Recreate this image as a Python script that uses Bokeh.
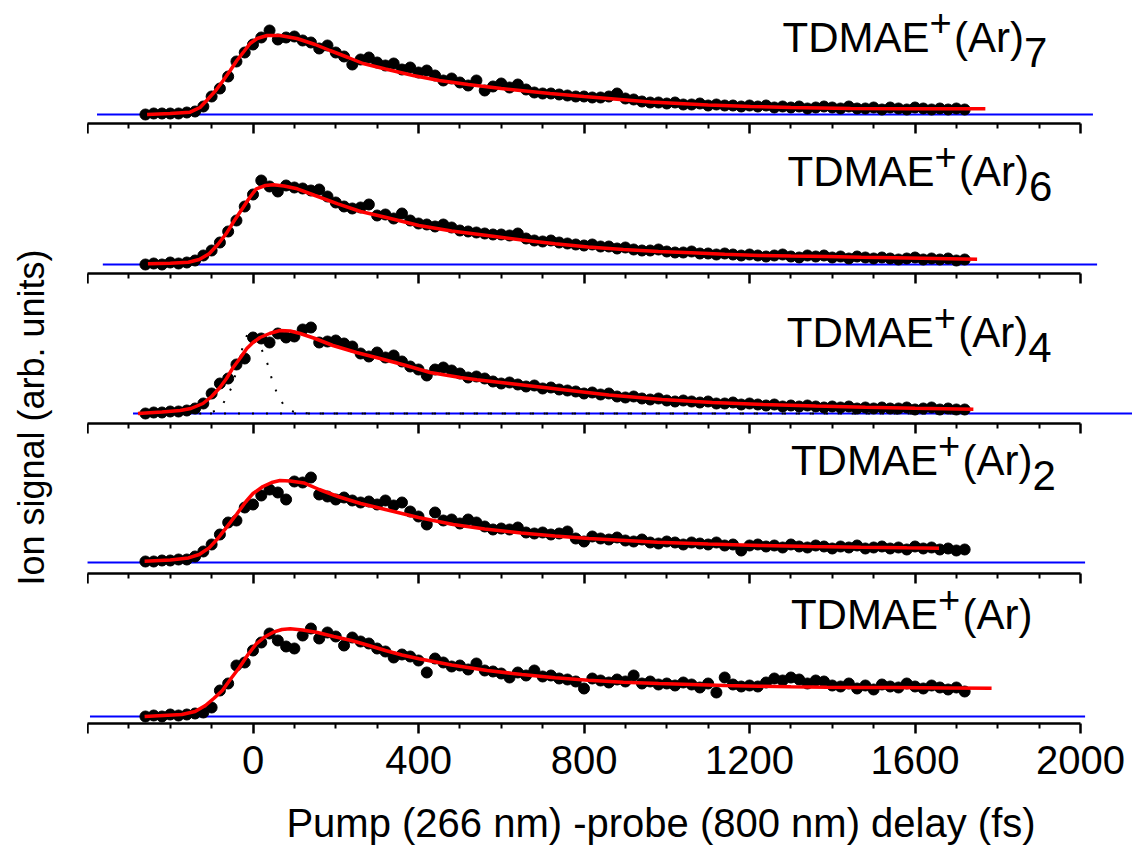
import math
from bokeh.plotting import figure
from bokeh.layouts import row, column
from bokeh.models import FixedTicker, Range1d, LinearAxis
from bokeh.core.properties import value
from bokeh.embed import file_html
from bokeh.resources import INLINE

FONT = "Liberation Sans"

# pump-probe delays (fs)
delay = [-260, -240, -220, -200, -180, -160, -140, -120, -100, -80,
         -60, -40, -20, 0, 20, 40, 60, 80, 100, 120,
         140, 160, 180, 200, 220, 240, 260, 280, 300, 320,
         340, 360, 380, 400, 420, 440, 460, 480, 500, 520,
         540, 560, 580, 600, 620, 640, 660, 680, 700, 720,
         740, 760, 780, 800, 820, 840, 860, 880, 900, 920,
         940, 960, 980, 1000, 1020, 1040, 1060, 1080, 1100, 1120,
         1140, 1160, 1180, 1200, 1220, 1240, 1260, 1280, 1300, 1320,
         1340, 1360, 1380, 1400, 1420, 1440, 1460, 1480, 1500, 1520,
         1540, 1560, 1580, 1600, 1620, 1640, 1660, 1680, 1700, 1720]

# ion signals (arb. units)
sig_ar7 = [0, 1, 1, 1, 1, 2, 3, 8, 18, 26,
           38, 53, 62, 70, 77, 84, 75, 77, 78, 74,
           72, 66, 69, 62, 58, 50, 55, 57, 52, 49,
           51, 45, 47, 42, 44, 39, 34, 36, 32, 29,
           34, 24, 28, 31, 27, 30, 25, 22, 21, 21,
           20, 19, 18, 18, 17, 17, 18, 21, 16, 15,
           13, 12, 12, 11, 12, 10, 10, 11, 9, 10,
           9, 9, 8, 9, 8, 9, 7, 8, 7, 8,
           6, 7, 8, 7, 6, 8, 6, 6, 7, 5,
           7, 6, 5, 7, 6, 5, 6, 5, 6, 5]
sig_ar6 = [0, 1, 0, 2, 1, 2, 4, 9, 14, 22,
           33, 44, 58, 70, 84, 78, 73, 79, 77, 76,
           74, 75, 68, 62, 58, 56, 57, 60, 49, 50,
           46, 51, 44, 41, 40, 38, 40, 37, 34, 33,
           32, 31, 30, 30, 29, 31, 26, 24, 23, 24,
           22, 21, 20, 19, 20, 18, 18, 16, 17, 15,
           14, 14, 15, 13, 12, 12, 13, 11, 11, 10,
           11, 10, 9, 10, 9, 8, 9, 10, 8, 7,
           9, 8, 9, 7, 8, 6, 8, 7, 6, 7,
           6, 5, 6, 7, 5, 6, 5, 6, 4, 5]
sig_ar4 = [0, 1, 1, 2, 2, 3, 5, 10, 20, 30,
           35, 49, 55, 76, 75, 71, 80, 76, 77, 84,
           86, 71, 72, 73, 70, 67, 60, 57, 61, 56,
           58, 52, 47, 44, 38, 44, 46, 43, 40, 36,
           37, 35, 32, 30, 31, 29, 27, 28, 25, 26,
           24, 23, 22, 20, 21, 19, 20, 17, 16, 17,
           15, 14, 15, 13, 12, 13, 12, 11, 12, 10,
           10, 11, 9, 10, 9, 8, 9, 7, 8, 7,
           8, 7, 6, 7, 6, 7, 5, 6, 5, 6,
           5, 5, 6, 4, 5, 6, 4, 5, 4, 4]
sig_ar2 = [1, 1, 2, 2, 3, 3, 6, 11, 18, 28,
           40, 42, 55, 58, 67, 73, 70, 63, 81, 80,
           85, 68, 66, 63, 65, 62, 60, 61, 58, 62,
           57, 60, 51, 46, 38, 50, 42, 43, 39, 43,
           40, 36, 33, 34, 33, 35, 30, 29, 30, 28,
           29, 31, 24, 21, 26, 24, 23, 25, 22, 21,
           23, 20, 19, 21, 20, 18, 20, 19, 18, 20,
           17, 18, 12, 17, 18, 16, 17, 15, 18, 16,
           15, 17, 16, 14, 16, 15, 17, 14, 15, 16,
           14, 15, 13, 16, 14, 15, 13, 14, 12, 13]
sig_ar1 = [0, 1, 0, 2, 1, 2, 3, 4, 9, 26,
           33, 51, 54, 66, 74, 83, 76, 70, 68, 81,
           88, 78, 84, 80, 71, 79, 75, 73, 68, 65,
           59, 62, 60, 56, 44, 58, 54, 50, 51, 47,
           53, 46, 45, 43, 39, 44, 41, 46, 40, 41,
           38, 37, 35, 28, 38, 36, 34, 37, 35, 41,
           33, 35, 32, 33, 31, 34, 32, 29, 33, 24,
           39, 32, 30, 31, 30, 34, 38, 36, 39, 37,
           33, 36, 35, 31, 30, 33, 28, 31, 27, 32,
           30, 29, 33, 30, 28, 31, 29, 27, 29, 25]

# fitted curves
fit_ar7_x = [-256, -200, -152, -128, -112, -90, -72, -55, -39, -22, -7, 10, 34, 65, 106, 150,
             186, 230, 266, 320, 387, 450, 520, 600, 718, 800, 960, 1100, 1202, 1300, 1444,
             1600, 1770]
fit_ar7_y = [0, 1, 2.3, 7, 14, 24, 34, 44, 54, 63, 71, 76, 79, 79, 76, 70,
             64, 57, 51, 45.5, 39, 34, 30, 26, 21, 18, 12.5, 9.5, 8, 7, 6,
             5.8, 5.7]
fit_ar6_x = [-254, -200, -156, -130, -106, -85, -65, -45, -24, -8, 8, 30, 49, 75, 107, 150,
             205, 260, 320, 401, 480, 566, 650, 730, 810, 895, 980, 1059, 1140, 1223, 1300,
             1387, 1470, 1551, 1650, 1750]
fit_ar6_y = [0.7, 1.2, 2.3, 5, 10.7, 20, 30.7, 44, 57, 67, 75.7, 79, 79.7, 78.5, 75.7, 69,
             60.7, 53, 47.3, 39, 33.5, 29, 24.5, 20.7, 17.5, 15, 13, 11.7, 10.3, 9, 8.5,
             8, 7.3, 6.7, 6, 5.3]
fit_ar4_x = [-278, -220, -176, -150, -121, -100, -80, -64, -48, -30, -15, 0, 17, 40, 65, 90,
             114, 150, 193, 250, 307, 370, 428, 501, 541, 620, 745, 860, 989, 1110, 1233,
             1360, 1480, 1600, 1741]
fit_ar4_y = [0, 1.5, 3, 5, 10, 17, 26, 35, 46, 56, 65, 71, 76, 80, 83, 82.5,
             80, 75, 68, 61, 55, 48, 41, 36, 33.7, 30, 24, 18.5, 14, 11, 9,
             7.5, 6.3, 5.2, 4.3]
fit_ar2_x = [-262, -200, -156, -130, -106, -85, -65, -40, -17, 0, 24, 45, 65, 90, 123, 160,
             205, 260, 320, 400, 484, 560, 648, 730, 812, 900, 977, 1100, 1223, 1350, 1469,
             1580, 1658]
fit_ar2_y = [1.3, 2.5, 4.6, 8, 14.6, 24, 34.6, 48, 61, 69, 76, 80, 82, 81.5, 79.6, 73,
             66, 59, 53, 45, 38, 33.5, 29.6, 26.5, 24, 22, 20.3, 18.5, 17, 16, 15.3,
             14.7, 14.3]
fit_ar1_x = [-262, -172, -140, -115, -95, -74, -55, -33, -12, 8, 28, 49, 70, 90, 120, 156,
             195, 238, 280, 320, 360, 401, 480, 566, 650, 730, 810, 895, 980, 1059, 1140,
             1223, 1300, 1387, 1470, 1551, 1680, 1785]
fit_ar1_y = [0, 2, 5, 11, 18, 26, 37, 49, 62, 72.7, 79.5, 84.3, 87, 87.7, 86.5, 84,
             80, 76, 71, 66, 61.5, 57.7, 51.5, 46, 42, 38.7, 36.3, 34.3, 33, 32, 31,
             30.3, 29.8, 29.3, 29.1, 29, 28.6, 28.3]

# fast component of the (Ar)4 fit (dotted)
fast_ar4_x = [-130, -104, -90, -72, -53, -40, -24, -12, 0, 10, 27, 39, 48, 63, 75, 89, 110, 140, 1720]
fast_ar4_y = [0, 0.5, 3, 10, 25, 42, 68, 81, 79, 72, 59, 45, 30, 16, 8, 3, 0.5, 0, 0]
zero_ar4_x = [-104, 1720]
zero_ar4_y = [0, 0]

# zero-signal reference lines (start, end in fs)
base_start = [-377, -363, -290, -401, -394]
base_end = [2030, 2040, 2200, 2011, 2011]

subscripts = ["7", "6", "4", "2", ""]
label_x = [1280, 1292, 1290, 1300, 1300]
label_y = [77, 93, 81, 102, 102]

signals = [sig_ar7, sig_ar6, sig_ar4, sig_ar2, sig_ar1]
fits = [(fit_ar7_x, fit_ar7_y), (fit_ar6_x, fit_ar6_y), (fit_ar4_x, fit_ar4_y),
        (fit_ar2_x, fit_ar2_y), (fit_ar1_x, fit_ar1_y)]

major_ticks = [-400, 0, 400, 800, 1200, 1600, 2000]
minor_ticks = [t for t in range(-400, 2001, 100) if t % 400 != 0]

X_RANGE = (-400, 2125.6)

# layout (pixels)
FRAME_W = 1045
LEFT_W = 87
frame_h = [121, 148, 148, 148, 150]
offsets = [7, 7, 8, 9, 7]            # frame bottom to zero line
border_t = [0, 2, 2, 2, 2]
border_b = [0, 0, 0, 0, 75]
XLAB_H = 50


def make_axis(inward):
    ax = LinearAxis(ticker=FixedTicker(ticks=major_ticks, minor_ticks=minor_ticks))
    ax.bounds = (-400, 2000)
    ax.axis_line_width = 2.5
    ax.axis_line_color = "black"
    ax.major_tick_line_width = 2.5
    ax.minor_tick_line_width = 2
    if inward:
        ax.major_tick_in, ax.major_tick_out = 10, 0
        ax.minor_tick_in, ax.minor_tick_out = 5, 0
        ax.major_label_text_font_size = "0px"
        ax.major_label_text_color = None
        ax.major_label_standoff = 0
    else:
        ax.major_tick_in, ax.major_tick_out = 0, 10
        ax.minor_tick_in, ax.minor_tick_out = 0, 5
        ax.major_label_text_font = FONT
        ax.major_label_text_font_size = "40px"
        ax.major_label_text_color = "black"
        ax.major_label_standoff = 12
        ax.major_label_overrides = {-400: ""}
    return ax


figs = []
for i in range(5):
    p = figure(width=FRAME_W, height=frame_h[i] + border_t[i] + border_b[i],
               x_range=Range1d(*X_RANGE),
               y_range=Range1d(-offsets[i], frame_h[i] - offsets[i]),
               output_backend="svg", toolbar_location=None,
               x_axis_location=None, y_axis_location=None,
               min_border_left=0, min_border_right=0,
               min_border_top=border_t[i], min_border_bottom=border_b[i])
    p.outline_line_color = None
    p.grid.visible = False

    if i > 0:
        p.add_layout(make_axis(inward=True), "above")
    if i == 4:
        p.add_layout(make_axis(inward=False), "below")

    p.line([base_start[i], base_end[i]], [0, 0], line_color="#0000ff", line_width=2)
    p.scatter(delay, signals[i], size=11, color="black", marker="circle")
    if i == 2:
        p.line(fast_ar4_x, fast_ar4_y, line_color="black", line_width=2, line_dash="2 12")
        p.line(zero_ar4_x, zero_ar4_y, line_color="black", line_width=2, line_dash="2 12")
    p.line(fits[i][0], fits[i][1], line_color="#ff0000", line_width=3.5)

    common = dict(text_font=value(FONT), text_color="black",
                  text_baseline="alphabetic", text_align="left")
    p.text(x=[label_x[i]], y=[label_y[i]], text=["TDMAE"], x_offset=0,
           text_font_size="42px", **common)
    p.text(x=[label_x[i]], y=[label_y[i]], text=["+"], x_offset=147, y_offset=-15.5,
           text_font_size="38px", **common)
    p.text(x=[label_x[i]], y=[label_y[i]], text=["(Ar)"], x_offset=171.5,
           text_font_size="42px", **common)
    if subscripts[i]:
        p.text(x=[label_x[i]], y=[label_y[i]], text=[subscripts[i]], x_offset=241.5,
               y_offset=15, text_font_size="42px", **common)
    figs.append(p)

# x-axis title strip (shares the delay scale)
xl = figure(width=FRAME_W, height=XLAB_H, x_range=Range1d(*X_RANGE), y_range=Range1d(0, XLAB_H),
            output_backend="svg", toolbar_location=None,
            x_axis_location=None, y_axis_location=None, min_border=0)
xl.outline_line_color = None
xl.grid.visible = False
xl.text(x=[986], y=[26], text=["Pump (266 nm) -probe (800 nm) delay (fs)"],
        text_font=value(FONT), text_font_size="40px", text_color="black",
        text_align="center", text_baseline="alphabetic")

# y-axis title strip
total_h = sum(frame_h) + sum(border_t) + sum(border_b) + XLAB_H
lf = figure(width=LEFT_W, height=total_h, x_range=Range1d(0, LEFT_W), y_range=Range1d(0, total_h),
            output_backend="svg", toolbar_location=None,
            x_axis_location=None, y_axis_location=None, min_border=0)
lf.outline_line_color = None
lf.grid.visible = False
lf.text(x=[31], y=[total_h - 417], text=["Ion signal (arb. units)"], angle=math.pi / 2,
        text_font=value(FONT), text_font_size="36px", text_color="black",
        text_align="center", text_baseline="alphabetic")

layout = row(lf, column(*figs, xl))

open("out.html", "w").write(file_html(layout, INLINE))
